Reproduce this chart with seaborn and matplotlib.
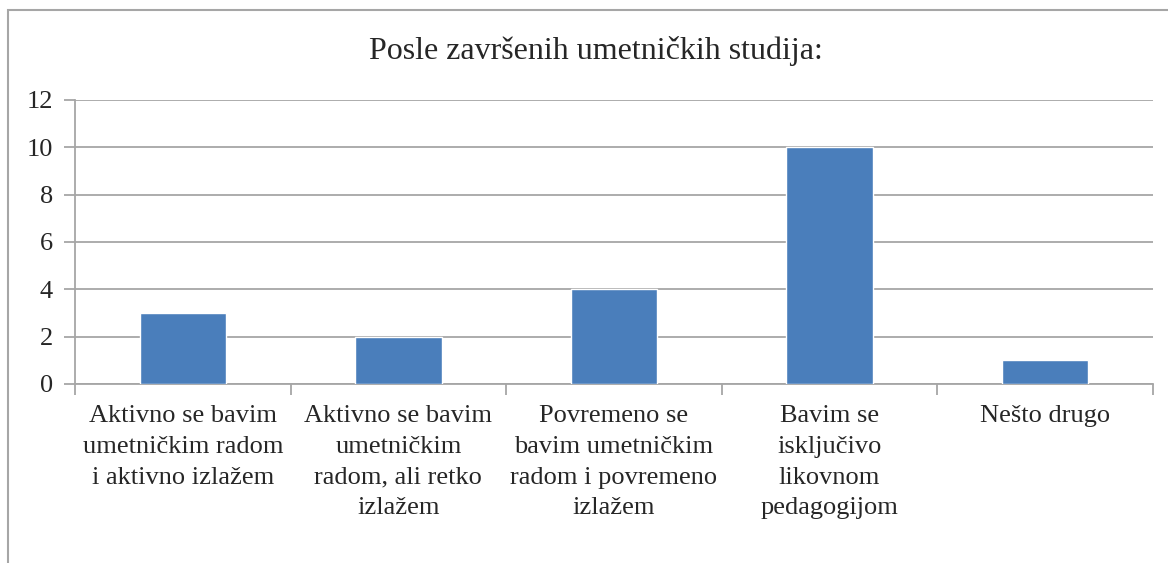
import numpy as np
import pandas as pd
import matplotlib
matplotlib.use("Agg")
import matplotlib.pyplot as plt
import seaborn as sns
from matplotlib.patches import Rectangle

# ----- Data -----
categories = [
    "Aktivno se bavim\numetničkim radom\ni aktivno izlažem",
    "Aktivno se bavim\numetničkim\nradom, ali retko\nizlažem",
    "Povremeno se\nbavim umetničkim\nradom i povremeno\nizlažem",
    "Bavim se\nisključivo\nlikovnom\npedagogijom",
    "Nešto drugo",
]
counts = [3, 2, 4, 10, 1]
title = "Posle završenih umetničkih studija:"

df = pd.DataFrame({"kategorija": categories, "broj": counts})

# ----- Style -----
sns.set_style("white")
plt.rcParams["font.family"] = ["Liberation Serif", "DejaVu Serif"]
grid_col = "#A6A6A6"
bar_col = "#4A7EBB"

fig = plt.figure(figsize=(11.68, 5.63), dpi=100)
ax = fig.add_axes([75 / 1168, 1 - 384 / 563, (1153 - 75) / 1168, (384 - 100) / 563])

sns.barplot(data=df, x="kategorija", y="broj", color=bar_col, width=0.4,
            saturation=1, ax=ax, zorder=3)

ax.set_ylim(0, 12)
ax.set_xlim(-0.5, len(categories) - 0.5)
ax.set_yticks(np.arange(0, 13, 2))
ax.yaxis.grid(True, color=grid_col, linewidth=1.3, zorder=0)
ax.set_axisbelow(True)
ax.set_xlabel("")
ax.set_ylabel("")

for s in ["top", "right"]:
    ax.spines[s].set_visible(False)
for s in ["left", "bottom"]:
    ax.spines[s].set_color(grid_col)
    ax.spines[s].set_linewidth(1.3)

ax.tick_params(axis="y", which="major", direction="out", length=8, width=1.3,
               color=grid_col, labelsize=19, pad=8, left=True)
ax.set_xticks(np.arange(-0.5, len(categories), 1.0), minor=True)
ax.tick_params(axis="x", which="minor", direction="out", length=8, width=1.3,
               color=grid_col, bottom=True)
ax.tick_params(axis="x", which="major", length=0, labelsize=19, pad=15)
for lbl in ax.get_xticklabels():
    lbl.set_linespacing(1.52)
    lbl.set_verticalalignment("top")

fig.text(596 / 1168, 1 - 51 / 563, title, ha="center", va="center", fontsize=23)

# outer chart frame (left and top edges visible)
fig.patches.append(Rectangle((8 / 1168, -0.1), 1.2, 1 - 10 / 563 + 0.1,
                             transform=fig.transFigure, fill=False,
                             edgecolor=grid_col, linewidth=1.5))

fig.savefig("out.png", dpi=100)
